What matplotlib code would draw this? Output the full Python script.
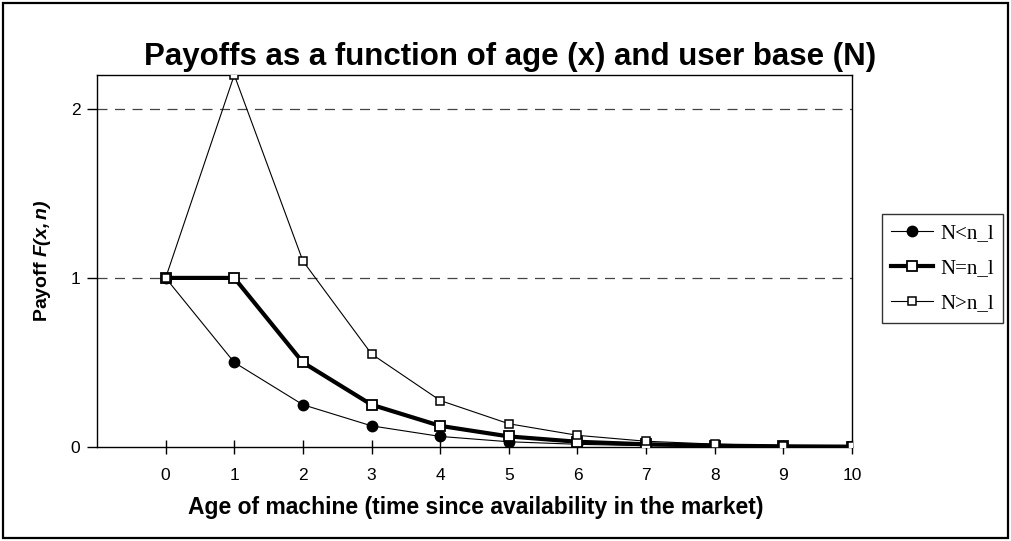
import matplotlib
matplotlib.use('Agg')
import matplotlib.pyplot as plt
from matplotlib.patches import Rectangle

plt.rcParams['font.family'] = ['Liberation Sans', 'DejaVu Sans']
plt.rcParams['mathtext.fontset'] = 'custom'
plt.rcParams['mathtext.bfit'] = 'Liberation Sans:italic:bold'
plt.rcParams['mathtext.it'] = 'Liberation Sans:italic'
plt.rcParams['mathtext.rm'] = 'Liberation Sans'

# data
age = [0, 1, 2, 3, 4, 5, 6, 7, 8, 9, 10]
payoff_low = [1.0, 0.5, 0.25, 0.125, 0.0625, 0.031, 0.016, 0.008, 0.004, 0.002, 0.001]
payoff_eq = [1.0, 1.0, 0.5, 0.25, 0.125, 0.0625, 0.031, 0.016, 0.008, 0.004, 0.002]
payoff_high = [1.0, 2.2, 1.1, 0.55, 0.275, 0.1375, 0.069, 0.034, 0.017, 0.0086, 0.0043]
series_names = ['N<n_l', 'N=n_l', 'N>n_l']
y_ticks = [0, 1, 2]

W, H = 1011, 541
fig = plt.figure(figsize=(W / 100, H / 100), dpi=100)
ax = fig.add_axes([97 / W, 1 - 447 / H, (852 - 97) / W, (447 - 75) / H])

# outer frame of the chart
fig.patches.append(Rectangle((3 / W, 3 / H), 1005 / W, 535 / H, transform=fig.transFigure,
                             fill=False, edgecolor='black', linewidth=1.6))

l1, = ax.plot(age, payoff_low, color='black', lw=0.8, marker='o', ms=7.5,
              mfc='black', mec='black', label=series_names[0], zorder=3)
l2, = ax.plot(age, payoff_eq, color='black', lw=3, marker='s', ms=7.5,
              mfc='white', mec='black', mew=1.3, label=series_names[1], zorder=4)
l3, = ax.plot(age, payoff_high, color='black', lw=0.8, marker='s', ms=6,
              mfc='white', mec='black', mew=1.1, label=series_names[2], zorder=5)

ax.set_xlim(-1, 10)
ax.set_ylim(0, 2.2)
ax.set_xticks(age)
ax.set_yticks(y_ticks)
ax.tick_params(axis='x', direction='inout', length=10, width=1, labelsize=12.5, pad=10)
ax.tick_params(axis='y', direction='out', length=7, width=1, labelsize=12.5, pad=5)

for y in [1, 2]:
    ax.axhline(y, color='#444444', lw=0.9, ls=(0, (8, 6)), zorder=1)

for s in ax.spines.values():
    s.set_linewidth(1)
    s.set_color('black')

fig.text(476 / W, 1 - 514 / H, 'Age of machine (time since availability in the market)',
         ha='center', va='baseline', fontsize=16.5, fontweight='bold')
fig.text(53 / W, 1 - 261 / H, r'Payoff $\mathbfit{F(x,n)}$', rotation=90,
         ha='right', va='center', fontsize=14, fontweight='bold')

fig.text(510 / W, 1 - 65 / H, 'Payoffs as a function of age (x) and user base (N)',
         ha='center', va='baseline', fontsize=22.5, fontweight='bold')

leg = fig.legend(handles=[l1, l2, l3], loc='upper left',
                 bbox_to_anchor=(882 / W, 1 - 214 / H), bbox_transform=fig.transFigure,
                 prop={'family': 'Liberation Serif', 'size': 15},
                 frameon=True, fancybox=False, edgecolor='#333333', framealpha=1,
                 handlelength=2.0, handletextpad=0.35, labelspacing=0.75,
                 borderpad=0.45, borderaxespad=0)
leg.get_frame().set_linewidth(1)

fig.savefig('out.png', dpi=100)
